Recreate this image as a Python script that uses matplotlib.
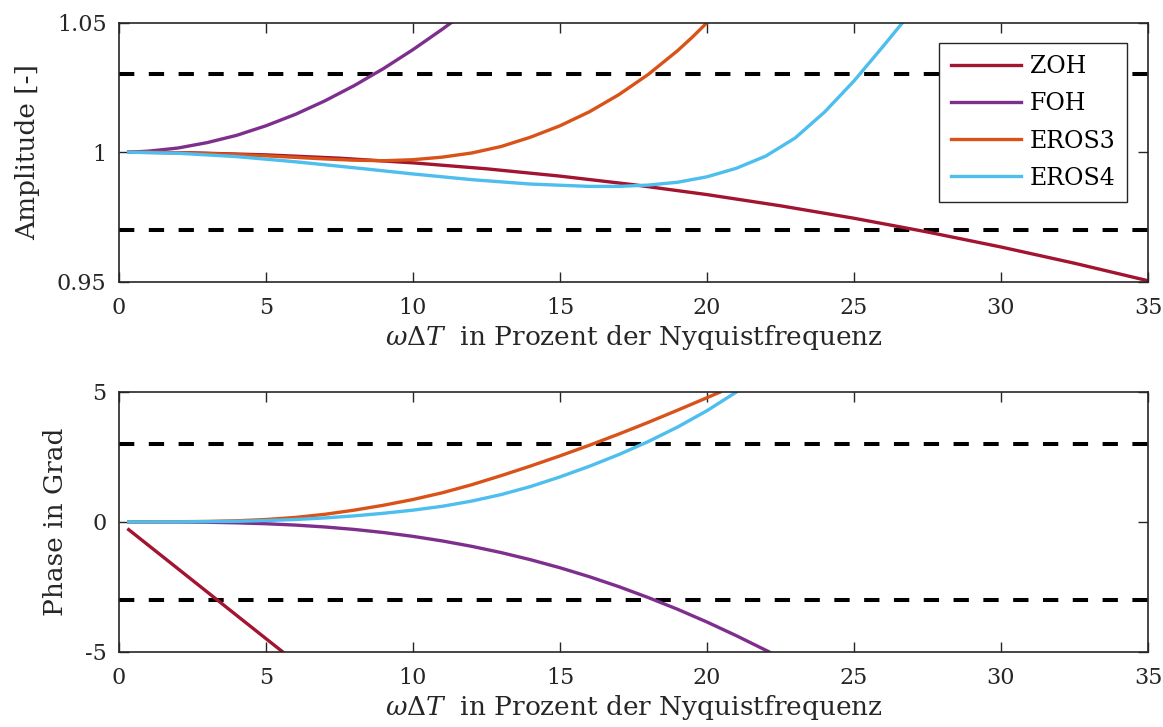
import matplotlib
matplotlib.use('Agg')
import matplotlib.pyplot as plt

# frequency axis (percent of Nyquist) and read-off values
zoh_x = [0.33, 2.5, 5, 7.5, 10, 12.5, 15, 17.5, 20, 22.5, 25, 27.5, 30, 32.5, 35]
zoh_amp = [1.0, 0.99974, 0.99897, 0.99769, 0.99589, 0.99359, 0.99077, 0.98745,
           0.98363, 0.97931, 0.97450, 0.96919, 0.96340, 0.95713, 0.95038]

foh_x = [0.33, 1, 2, 3, 4, 5, 6, 7, 8, 9, 10, 11, 11.3]
foh_amp = [1.0, 1.0004, 1.0016, 1.0037, 1.0065, 1.0102, 1.0146, 1.0198, 1.0257,
           1.0323, 1.0396, 1.0475, 1.0500]

eros3_x = [0.33, 1, 2, 3, 4, 5, 6, 7, 8, 9, 10, 11, 12, 13, 14, 15, 16, 17, 18, 19, 19.5, 20]
eros3_amp = [1.0, 1.0, 0.9998, 0.9995, 0.9991, 0.9986, 0.9980, 0.9974, 0.9969, 0.9967,
             0.9971, 0.9981, 0.9997, 1.0022, 1.0058, 1.0102, 1.0156, 1.0222, 1.0300,
             1.0392, 1.0444, 1.0500]

eros4_x = [0.33, 2, 4, 6, 8, 10, 12, 14, 16, 17, 18, 19, 20, 21, 22, 23, 24, 25, 26, 26.65]
eros4_amp = [1.0, 0.9996, 0.9983, 0.9963, 0.9940, 0.9916, 0.9894, 0.9877, 0.9868,
             0.9868, 0.9873, 0.9884, 0.9905, 0.9938, 0.9985, 1.0055, 1.0155, 1.0275,
             1.0410, 1.0500]

zohp_x = [0.33, 2, 4, 5.56]
zoh_ph = [-0.30, -1.80, -3.60, -5.0]

fohp_x = [0.33, 1, 2, 3, 4, 5, 6, 7, 8, 9, 10, 11, 12, 13, 14, 15, 16, 17, 18, 19, 20, 21, 22.1]
foh_ph = [0.0, -0.001, -0.005, -0.016, -0.038, -0.073, -0.125, -0.197, -0.292, -0.412,
          -0.559, -0.736, -0.944, -1.184, -1.459, -1.768, -2.113, -2.495, -2.915,
          -3.367, -3.858, -4.385, -5.0]

e3p_x = [0.33, 2, 3, 4, 5, 6, 7, 8, 9, 10, 11, 12, 13, 14, 15, 16, 17, 18, 19, 20, 20.45]
eros3_ph = [0.0, 0.005, 0.015, 0.04, 0.09, 0.17, 0.29, 0.45, 0.64, 0.86, 1.12, 1.43,
            1.78, 2.15, 2.54, 2.95, 3.38, 3.83, 4.30, 4.78, 5.0]

e4p_x = [0.33, 2, 3, 4, 5, 6, 7, 8, 9, 10, 11, 12, 13, 14, 15, 16, 17, 18, 19, 20, 21]
eros4_ph = [0.0, 0.0, 0.01, 0.02, 0.05, 0.09, 0.15, 0.23, 0.33, 0.45, 0.60, 0.80,
            1.05, 1.36, 1.73, 2.14, 2.59, 3.09, 3.65, 4.28, 5.0]

amp_limits = [0.97, 1.03]
ph_limits = [-3, 3]

names = ['ZOH', 'FOH', 'EROS3', 'EROS4']
colors = ['#A2142F', '#7E2F8E', '#D95319', '#4DBEEE']
dark = '#262626'

plt.rcParams['font.family'] = ['DejaVu Serif']
plt.rcParams['mathtext.fontset'] = 'custom'
plt.rcParams['mathtext.rm'] = 'DejaVu Serif'
plt.rcParams['mathtext.it'] = 'DejaVu Serif:italic'
plt.rcParams['axes.unicode_minus'] = False

fig = plt.figure(figsize=(11.63, 7.27), dpi=100)
ax1 = fig.add_axes([0.1023, 0.6125, 0.8848, 0.3563])
ax2 = fig.add_axes([0.1023, 0.1036, 0.8848, 0.3572])

lw = 2.4
for ax in (ax1, ax2):
    ax.set_xlim(0, 35)
    ax.set_xticks([0, 5, 10, 15, 20, 25, 30, 35])
    ax.tick_params(direction='in', length=7, width=1.0, colors=dark, labelsize=16,
                   top=True, right=True)
    ax.tick_params(axis='x', pad=11)
    ax.tick_params(axis='y', pad=9)
    for s in ax.spines.values():
        s.set_color(dark)
        s.set_linewidth(1.2)
    ax.set_xlabel(r'$\omega\mathit{\Delta}T\ $ in Prozent der Nyquistfrequenz',
                  fontsize=19, color=dark, labelpad=3)

for v in amp_limits:
    ax1.axhline(v, color='k', lw=2.9, dashes=(3.8, 3.6))
ax1.plot(zoh_x, zoh_amp, color=colors[0], lw=lw, label=names[0])
ax1.plot(foh_x, foh_amp, color=colors[1], lw=lw, label=names[1])
ax1.plot(eros3_x, eros3_amp, color=colors[2], lw=lw, label=names[2])
ax1.plot(eros4_x, eros4_amp, color=colors[3], lw=lw, label=names[3])
ax1.set_ylim(0.95, 1.05)
ax1.set_yticks([0.95, 1.0, 1.05])
ax1.set_yticklabels(['0.95', '1', '1.05'])
ax1.set_ylabel('Amplitude [-]', fontsize=19, color=dark, labelpad=12)

leg = ax1.legend(loc='upper right', bbox_to_anchor=(0.98, 0.92), borderaxespad=0,
                 fancybox=False, fontsize=17, handlelength=3.0, handletextpad=0.35,
                 labelspacing=0.6, borderpad=0.5, framealpha=1)
leg.get_frame().set_edgecolor(dark)
leg.get_frame().set_linewidth(1.0)

for v in ph_limits:
    ax2.axhline(v, color='k', lw=2.9, dashes=(3.8, 3.6))
ax2.plot(zohp_x, zoh_ph, color=colors[0], lw=lw)
ax2.plot(fohp_x, foh_ph, color=colors[1], lw=lw)
ax2.plot(e3p_x, eros3_ph, color=colors[2], lw=lw)
ax2.plot(e4p_x, eros4_ph, color=colors[3], lw=lw)
ax2.set_ylim(-5, 5)
ax2.set_yticks([-5, 0, 5])
ax2.set_yticklabels(['-5', '0', '5'])
ax2.set_ylabel('Phase in Grad', fontsize=19, color=dark, labelpad=12)

fig.savefig('out.png', dpi=100)
